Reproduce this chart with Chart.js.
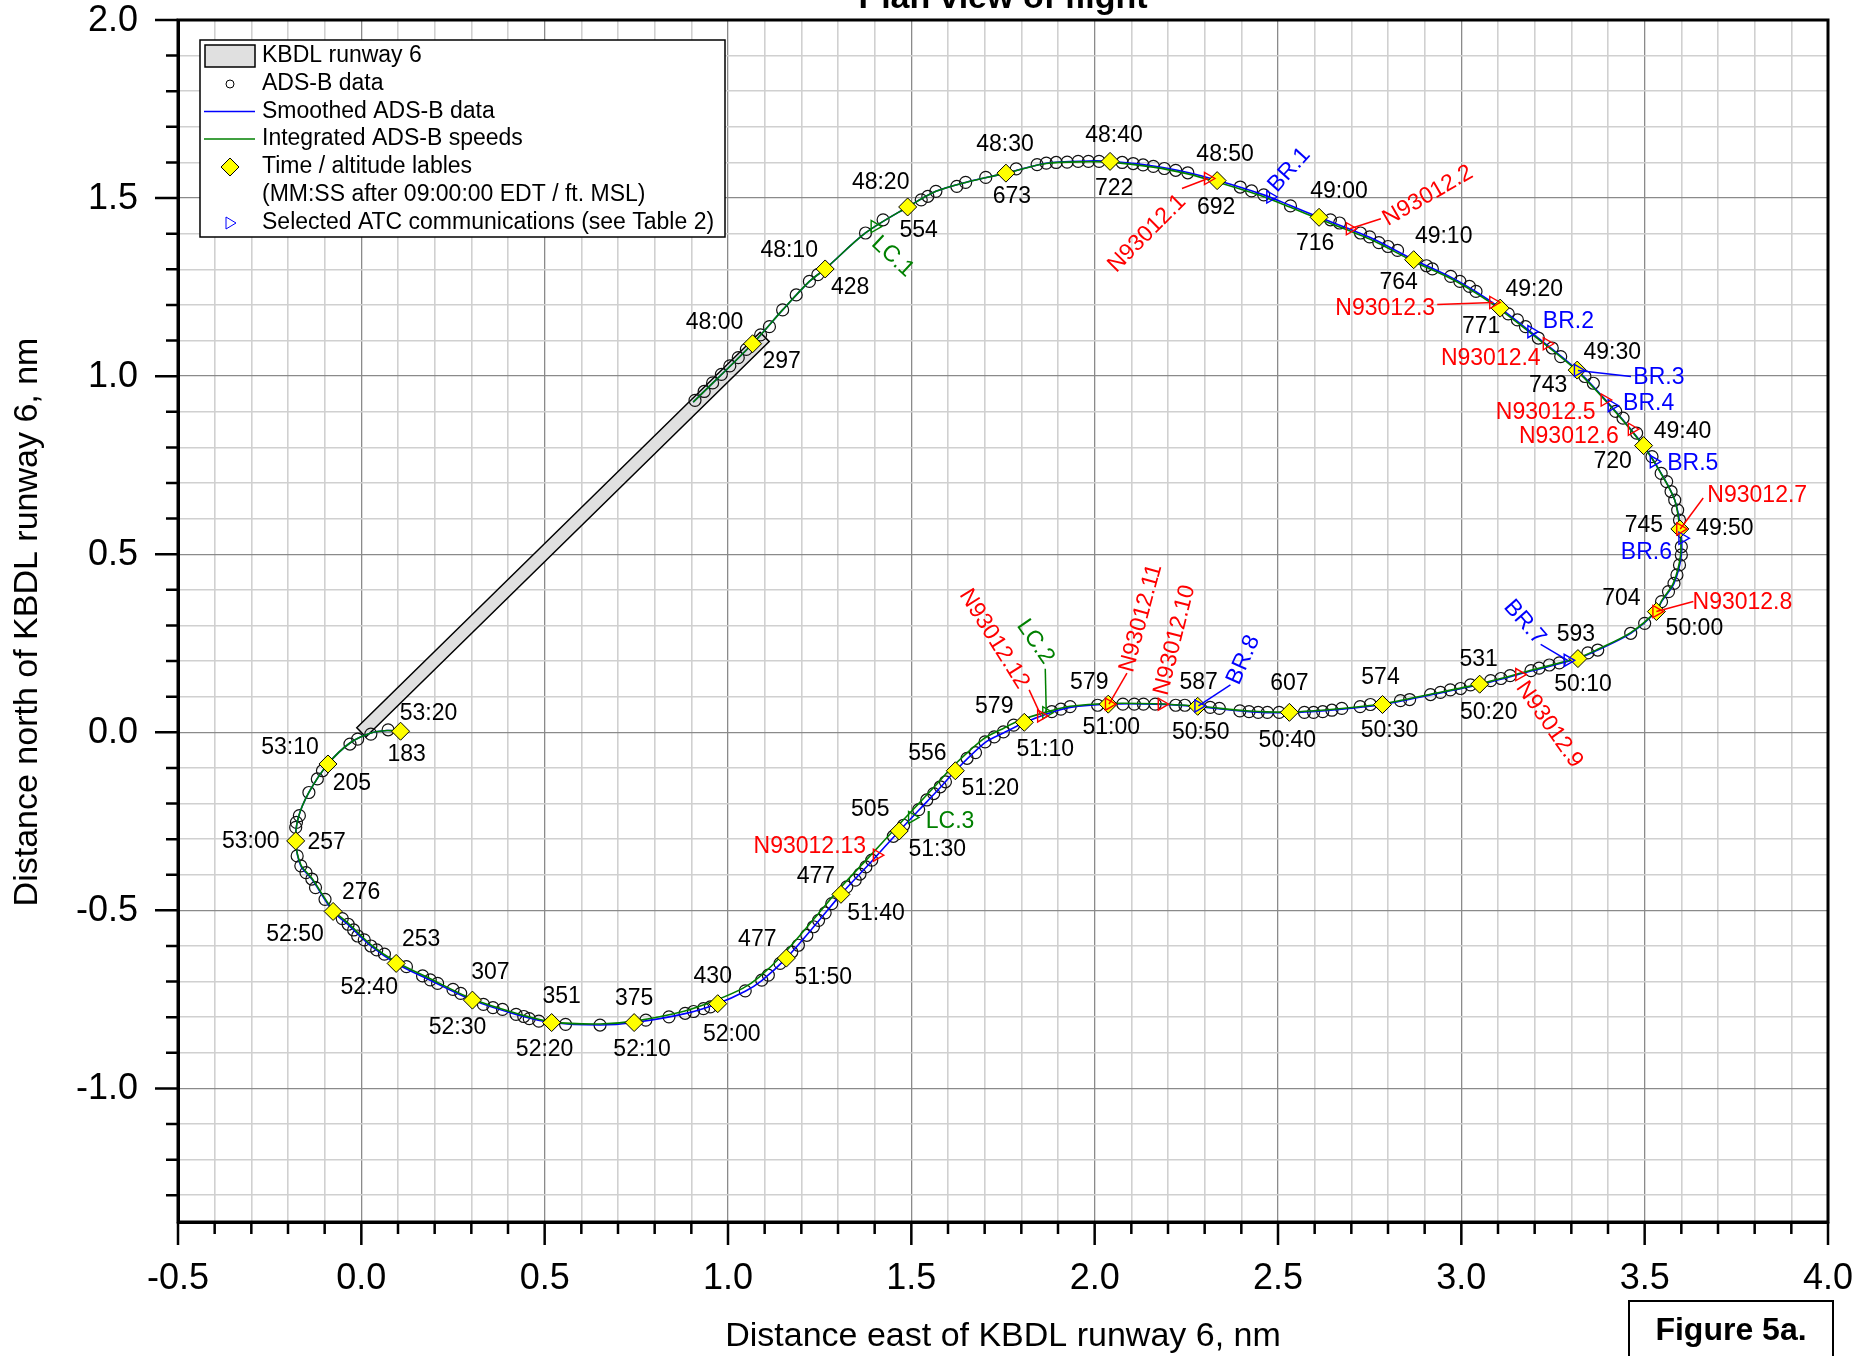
<!DOCTYPE html>
<html>
<head>
<meta charset="utf-8">
<script src="https://cdn.jsdelivr.net/npm/chart.js@4.4.1/dist/chart.umd.min.js"></script>
<style>
  html, body { margin: 0; padding: 0; background: #fff; overflow: hidden; }
  canvas { display: block; }
</style>
</head>
<body>
<canvas id="plan" width="1875" height="1356"></canvas>
<script>
// ---- values (nm east / nm north of KBDL runway 6) ----
const xTickLabels = ['-0.5', '0.0', '0.5', '1.0', '1.5', '2.0', '2.5', '3.0', '3.5', '4.0'];
const yTickLabels = ['2.0', '1.5', '1.0', '0.5', '0.0', '-0.5', '-1.0'];

const runwayEnds = [[0.0, 0.0], [1.100, 1.110]];

// Smoothed ADS-B track
const smoothedTrack = [
  [0.905, 0.927], [1.067, 1.091], [1.149, 1.186], [1.222, 1.266], [1.265, 1.301],
  [1.375, 1.402], [1.490, 1.475], [1.567, 1.519], [1.648, 1.544], [1.758, 1.570],
  [1.868, 1.598], [1.983, 1.604], [2.042, 1.603], [2.160, 1.590], [2.254, 1.572],
  [2.334, 1.550], [2.461, 1.509], [2.534, 1.479], [2.612, 1.446], [2.750, 1.390],
  [2.870, 1.327], [2.971, 1.278], [3.040, 1.237], [3.106, 1.191], [3.210, 1.107],
  [3.316, 1.017], [3.421, 0.901], [3.497, 0.805], [3.545, 0.727], [3.582, 0.652],
  [3.598, 0.570], [3.600, 0.498], [3.580, 0.418], [3.546, 0.367], [3.532, 0.339],
  [3.462, 0.278], [3.372, 0.231], [3.318, 0.207], [3.190, 0.172], [3.050, 0.134],
  [2.916, 0.105], [2.785, 0.078], [2.674, 0.065], [2.531, 0.055], [2.421, 0.058],
  [2.281, 0.072], [2.165, 0.079], [2.035, 0.079], [1.933, 0.070], [1.883, 0.056],
  [1.808, 0.027], [1.751, -0.002], [1.701, -0.029], [1.620, -0.108], [1.579, -0.155],
  [1.520, -0.219], [1.467, -0.277], [1.392, -0.362], [1.308, -0.455], [1.247, -0.530],
  [1.159, -0.634], [1.092, -0.697], [1.047, -0.727], [0.971, -0.762], [0.883, -0.790],
  [0.744, -0.815], [0.651, -0.822], [0.519, -0.815], [0.422, -0.792], [0.303, -0.752],
  [0.188, -0.696], [0.095, -0.649], [0.026, -0.600], [-0.036, -0.540], [-0.077, -0.503],
  [-0.135, -0.412], [-0.165, -0.375], [-0.179, -0.305], [-0.172, -0.240], [-0.143, -0.169],
  [-0.091, -0.089], [-0.031, -0.030], [0.026, -0.002], [0.070, 0.005], [0.107, 0.003]
];

// Track from integrated ADS-B speeds
const integratedTrack = [
  [0.905, 0.927], [1.067, 1.091], [1.149, 1.186], [1.222, 1.266], [1.265, 1.301],
  [1.375, 1.402], [1.490, 1.475], [1.567, 1.519], [1.648, 1.544], [1.758, 1.570],
  [1.868, 1.597], [1.983, 1.602], [2.042, 1.601], [2.160, 1.587], [2.254, 1.568],
  [2.334, 1.545], [2.461, 1.504], [2.534, 1.474], [2.612, 1.441], [2.750, 1.385],
  [2.870, 1.322], [2.971, 1.274], [3.040, 1.233], [3.106, 1.187], [3.210, 1.104],
  [3.316, 1.014], [3.421, 0.899], [3.497, 0.803], [3.545, 0.726], [3.582, 0.652],
  [3.596, 0.570], [3.598, 0.498], [3.578, 0.418], [3.546, 0.369], [3.532, 0.341],
  [3.462, 0.280], [3.372, 0.233], [3.318, 0.209], [3.190, 0.174], [3.050, 0.136],
  [2.916, 0.107], [2.785, 0.080], [2.674, 0.067], [2.531, 0.057], [2.421, 0.060],
  [2.281, 0.073], [2.165, 0.080], [2.035, 0.081], [1.933, 0.073], [1.883, 0.061],
  [1.800, 0.035], [1.745, 0.008], [1.695, -0.020], [1.612, -0.097], [1.571, -0.144],
  [1.512, -0.209], [1.458, -0.268], [1.383, -0.352], [1.298, -0.446], [1.237, -0.521],
  [1.150, -0.624], [1.084, -0.688], [1.040, -0.719], [0.965, -0.753], [0.880, -0.783],
  [0.744, -0.811], [0.651, -0.819], [0.519, -0.813], [0.422, -0.789], [0.303, -0.749],
  [0.188, -0.692], [0.095, -0.645], [0.026, -0.596], [-0.036, -0.536], [-0.077, -0.499],
  [-0.135, -0.410], [-0.165, -0.372], [-0.179, -0.305], [-0.172, -0.240], [-0.143, -0.169],
  [-0.091, -0.089], [-0.031, -0.030], [0.026, -0.002], [0.070, 0.005], [0.107, 0.003]
];

// Raw ADS-B reports
const adsbPoints = [
  [0.910, 0.932], [0.935, 0.957], [0.958, 0.981], [0.982, 1.005], [1.005, 1.029], [1.028, 1.052], [1.050, 1.075],
  [1.089, 1.116], [1.113, 1.139], [1.149, 1.186], [1.186, 1.228], [1.222, 1.266], [1.245, 1.285],
  [1.375, 1.402], [1.423, 1.439],
  [1.527, 1.495], [1.545, 1.505], [1.567, 1.519], [1.624, 1.533], [1.648, 1.544], [1.703, 1.558],
  [1.786, 1.582], [1.843, 1.594], [1.868, 1.598], [1.895, 1.600], [1.925, 1.601], [1.955, 1.603], [1.983, 1.603], [2.012, 1.603],
  [2.075, 1.600], [2.105, 1.597], [2.132, 1.593], [2.160, 1.589], [2.190, 1.583], [2.221, 1.578], [2.254, 1.571],
  [2.397, 1.531], [2.428, 1.520], [2.461, 1.509], [2.534, 1.478],
  [2.643, 1.439], [2.668, 1.430], [2.725, 1.402], [2.750, 1.391], [2.775, 1.375], [2.800, 1.364], [2.826, 1.353],
  [2.905, 1.310], [2.921, 1.301], [2.971, 1.280], [2.996, 1.266], [3.022, 1.252], [3.040, 1.238],
  [3.128, 1.175], [3.153, 1.158], [3.175, 1.139], [3.210, 1.107], [3.248, 1.079], [3.271, 1.055],
  [3.337, 0.999], [3.360, 0.980], [3.421, 0.901], [3.441, 0.882], [3.478, 0.840],
  [3.520, 0.774], [3.545, 0.727], [3.560, 0.704], [3.572, 0.676], [3.582, 0.652], [3.590, 0.624], [3.595, 0.596],
  [3.600, 0.521], [3.600, 0.498], [3.595, 0.470], [3.588, 0.442], [3.580, 0.418], [3.565, 0.395], [3.546, 0.367],
  [3.500, 0.306], [3.462, 0.278], [3.372, 0.231], [3.345, 0.223],
  [3.267, 0.195], [3.240, 0.189], [3.212, 0.180], [3.190, 0.173], [3.133, 0.159], [3.108, 0.151], [3.080, 0.145],
  [3.025, 0.133], [2.998, 0.123], [2.970, 0.119], [2.943, 0.112], [2.916, 0.106], [2.859, 0.092], [2.834, 0.089],
  [2.752, 0.078], [2.724, 0.072], [2.674, 0.067], [2.647, 0.062], [2.622, 0.058], [2.597, 0.056], [2.572, 0.056],
  [2.503, 0.056], [2.471, 0.056], [2.446, 0.056], [2.421, 0.058], [2.396, 0.060], [2.340, 0.067], [2.315, 0.070],
  [2.246, 0.076], [2.221, 0.076], [2.165, 0.079], [2.133, 0.079], [2.108, 0.079], [2.077, 0.079],
  [2.008, 0.076], [1.933, 0.072], [1.908, 0.065], [1.883, 0.058],
  [1.779, 0.020], [1.751, 0.001], [1.726, -0.013], [1.701, -0.027], [1.675, -0.057], [1.652, -0.073],
  [1.593, -0.139], [1.579, -0.153], [1.561, -0.172], [1.542, -0.190], [1.520, -0.217], [1.479, -0.261],
  [1.451, -0.292], [1.392, -0.359], [1.376, -0.378], [1.360, -0.398], [1.347, -0.415], [1.324, -0.434],
  [1.283, -0.481], [1.265, -0.507], [1.247, -0.528], [1.233, -0.546], [1.215, -0.570], [1.192, -0.598], [1.174, -0.617],
  [1.142, -0.649], [1.110, -0.682], [1.092, -0.696], [1.047, -0.726],
  [0.952, -0.771], [0.933, -0.776], [0.906, -0.784], [0.883, -0.789], [0.839, -0.799], [0.776, -0.808],
  [0.651, -0.822], [0.557, -0.820],
  [0.484, -0.811], [0.458, -0.804], [0.443, -0.798], [0.422, -0.792], [0.385, -0.778], [0.359, -0.773], [0.333, -0.764],
  [0.271, -0.733], [0.250, -0.722], [0.208, -0.705], [0.188, -0.695], [0.167, -0.684], [0.123, -0.658],
  [0.063, -0.623], [0.042, -0.611], [0.026, -0.600], [0.008, -0.583], [-0.010, -0.572], [-0.021, -0.555], [-0.036, -0.539], [-0.052, -0.523],
  [-0.099, -0.469], [-0.125, -0.436], [-0.135, -0.412], [-0.151, -0.394], [-0.165, -0.375], [-0.175, -0.347],
  [-0.179, -0.267], [-0.177, -0.253], [-0.169, -0.234], [-0.143, -0.169], [-0.120, -0.131], [-0.106, -0.108],
  [-0.031, -0.033], [-0.010, -0.019], [0.026, -0.005], [0.073, 0.007]
];

// Time / altitude labels
const labelTimes = ['48:00', '48:10', '48:20', '48:30', '48:40', '48:50', '49:00', '49:10', '49:20', '49:30',
  '49:40', '49:50', '50:00', '50:10', '50:20', '50:30', '50:40', '50:50', '51:00', '51:10', '51:20',
  '51:30', '51:40', '51:50', '52:00', '52:10', '52:20', '52:30', '52:40', '52:50', '53:00', '53:10', '53:20'];
const labelAltitudes = [297, 428, 554, 673, 722, 692, 716, 764, 771, 743, 720, 745, 704, 593, 531, 574, 607,
  587, 579, 579, 556, 505, 477, 477, 430, 375, 351, 307, 253, 276, 257, 205, 183];
const labelX = [1.067, 1.265, 1.490, 1.758, 2.042, 2.334, 2.612, 2.870, 3.106, 3.316, 3.497, 3.596, 3.532,
  3.318, 3.050, 2.785, 2.531, 2.281, 2.037, 1.808, 1.620, 1.467, 1.308, 1.159, 0.972, 0.744, 0.519,
  0.303, 0.095, -0.077, -0.179, -0.091, 0.107];
const labelY = [1.091, 1.301, 1.475, 1.570, 1.603, 1.549, 1.446, 1.327, 1.191, 1.017, 0.805, 0.571, 0.339,
  0.207, 0.135, 0.078, 0.056, 0.073, 0.079, 0.028, -0.108, -0.277, -0.455, -0.634, -0.762, -0.815,
  -0.815, -0.752, -0.649, -0.503, -0.305, -0.089, 0.003];

// Selected ATC communications
const brNames = ['BR.1', 'BR.2', 'BR.3', 'BR.4', 'BR.5', 'BR.6', 'BR.7', 'BR.8'];
const brX = [2.479, 3.191, 3.318, 3.410, 3.525, 3.603, 3.290, 2.283];
const brY = [1.503, 1.125, 1.016, 0.917, 0.760, 0.545, 0.202, 0.074];

const nNames = ['N93012.1', 'N93012.2', 'N93012.3', 'N93012.4', 'N93012.5', 'N93012.6', 'N93012.7',
  'N93012.8', 'N93012.9', 'N93012.10', 'N93012.11', 'N93012.12', 'N93012.13'];
const nX = [2.309, 2.696, 3.087, 3.233, 3.391, 3.465, 3.597, 3.532, 3.158, 2.183, 2.039, 1.854, 1.406];
const nY = [1.555, 1.414, 1.207, 1.091, 0.933, 0.851, 0.571, 0.339, 0.162, 0.079, 0.079, 0.046, -0.345];

const lcNames = ['LC.1', 'LC.2', 'LC.3'];
const lcX = [1.400, 1.868, 1.502];
const lcY = [1.420, 0.055, -0.239];

// ---- layout of the annotations (pixel offsets from their mark) ----
// [time dx, time dy, altitude dx, altitude dy]
const labelPlacement = [
  [-38, -21, 29, 18], [-36, -18, 25, 19], [-27, -24, 11, 24], [-1, -28, 6, 24], [4, -26, 4, 27],
  [8, -26, -1, 27], [20, -26, -4, 26], [30, -23, -15, 23], [34, -18, -19, 19], [35, -17, -29, 16],
  [39, -14, -31, 16], [45, 0, -36, -3], [38, 17, -35, -13], [5, 26, -2, -24], [9, 28, -1, -25],
  [7, 26, -2, -27], [-2, 28, 0, -29], [3, 26, 1, -24], [3, 23, -19, -22], [21, 27, -30, -16],
  [35, 18, -28, -17], [38, 19, -29, -21], [35, 19, -25, -18], [37, 20, -29, -18], [14, 31, -5, -27],
  [8, 27, 0, -24], [-7, 27, 10, -26], [-15, 28, 18, -27], [-27, 24, 25, -24], [-38, 23, 28, -19],
  [-45, 1, 31, 2], [-38, -16, 24, 20], [28, -18, 6, 23]
];
// [dx, dy, rotation deg, leader end dx, leader end dy]
const brPlacement = [
  [19, -27, -48], [37, -10, 0], [81, 7, 0, 53, 6], [37, -2, 0], [39, 2, 0], [-36, 14, 0],
  [-43, -38, 49, -27, -16], [45, -46, -66, 32, -21]
];
const nPlacement = [
  [-61, 55, -45, -26, 10], [78, -33, -30, 31, -10], [-108, 6, 0, -56, 2], [-56, 15, 0], [-59, 13, 0],
  [-63, 7, 0], [77, -33, 0, 23, -31], [86, -9, 0, 37, -10], [30, 50, 55], [13, -64, -76],
  [32, -86, -75, 18, -31], [-47, -77, 58, -12, -26], [-67, -9, 0]
];
const lcPlacement = [[18, 30, 43], [-11, -71, 55, -1, -44], [38, 4, 0]];

const FONT = '"Liberation Sans", Arial, Helvetica, sans-serif';
const RED = '#ff0000', BLUE = '#0000ff', GREEN = '#008000';

const pairs = arr => arr.map(p => ({ x: p[0], y: p[1] }));
const zip = (xs, ys) => xs.map((v, i) => ({ x: v, y: ys[i] }));

function gridValues(min, max) {
  const vals = [];
  for (let k = Math.ceil(min * 10 - 1e-9); k <= Math.floor(max * 10 + 1e-9); k++) vals.push({ value: k / 10 });
  return vals;
}
const isMajor = v => Math.abs(v * 2 - Math.round(v * 2)) < 1e-6;

function drawText(ctx, text, x, y, opts) {
  ctx.save();
  ctx.translate(x, y);
  if (opts.rot) ctx.rotate(opts.rot * Math.PI / 180);
  ctx.font = opts.font;
  ctx.fillStyle = opts.color || '#000';
  ctx.textAlign = opts.align || 'center';
  ctx.textBaseline = 'middle';
  ctx.fillText(text, 0, 0);
  ctx.restore();
}

function drawAtcLabels(ctx, xs, ys, names, place, color, sx, sy) {
  names.forEach((name, i) => {
    const px = sx.getPixelForValue(xs[i]);
    const py = sy.getPixelForValue(ys[i]);
    const p = place[i];
    if (p.length > 3) {
      ctx.save();
      ctx.strokeStyle = color;
      ctx.lineWidth = 1.5;
      ctx.beginPath();
      ctx.moveTo(px, py);
      ctx.lineTo(px + p[3], py + p[4]);
      ctx.stroke();
      ctx.restore();
    }
    drawText(ctx, name, px + p[0], py + p[1], { font: '23px ' + FONT, color: color, rot: p[2] });
  });
}

const decorations = {
  id: 'decorations',
  beforeDatasetsDraw(chart) {
    const { ctx, scales: { x, y } } = chart;
    const x0 = x.getPixelForValue(runwayEnds[0][0]), y0 = y.getPixelForValue(runwayEnds[0][1]);
    const x1 = x.getPixelForValue(runwayEnds[1][0]), y1 = y.getPixelForValue(runwayEnds[1][1]);
    const len = Math.hypot(x1 - x0, y1 - y0);
    const half = 6.5;
    const nx = -(y1 - y0) / len * half, ny = (x1 - x0) / len * half;
    ctx.save();
    ctx.beginPath();
    ctx.moveTo(x0 + nx, y0 + ny);
    ctx.lineTo(x1 + nx, y1 + ny);
    ctx.lineTo(x1 - nx, y1 - ny);
    ctx.lineTo(x0 - nx, y0 - ny);
    ctx.closePath();
    ctx.fillStyle = '#e0e0e0';
    ctx.fill();
    ctx.lineWidth = 1.5;
    ctx.strokeStyle = '#000';
    ctx.stroke();
    ctx.restore();
  },
  afterDatasetsDraw(chart) {
    const { ctx, scales: { x, y } } = chart;
    const f = '23px ' + FONT;
    labelTimes.forEach((t, i) => {
      const px = x.getPixelForValue(labelX[i]);
      const py = y.getPixelForValue(labelY[i]);
      const p = labelPlacement[i];
      drawText(ctx, t, px + p[0], py + p[1], { font: f });
      drawText(ctx, String(labelAltitudes[i]), px + p[2], py + p[3], { font: f });
    });
    drawAtcLabels(ctx, nX, nY, nNames, nPlacement, RED, x, y);
    drawAtcLabels(ctx, brX, brY, brNames, brPlacement, BLUE, x, y);
    drawAtcLabels(ctx, lcX, lcY, lcNames, lcPlacement, GREEN, x, y);
  },
  afterDraw(chart) {
    const { ctx, chartArea: a, scales: { x, y } } = chart;
    ctx.save();
    // frame
    ctx.strokeStyle = '#000';
    ctx.lineWidth = 3;
    ctx.strokeRect(a.left, a.top, a.right - a.left, a.bottom - a.top);
    // tick marks
    ctx.lineWidth = 2.5;
    ctx.beginPath();
    x.ticks.forEach(t => {
      const px = x.getPixelForValue(t.value);
      ctx.moveTo(px, a.bottom);
      ctx.lineTo(px, a.bottom + (isMajor(t.value) ? 23 : 12));
    });
    y.ticks.forEach(t => {
      const py = y.getPixelForValue(t.value);
      ctx.moveTo(a.left, py);
      ctx.lineTo(a.left - (isMajor(t.value) ? 23 : 12), py);
    });
    ctx.stroke();
    ctx.restore();
    // tick labels
    xTickLabels.forEach(l => {
      drawText(ctx, l, x.getPixelForValue(parseFloat(l)), a.bottom + 57, { font: '36px ' + FONT });
    });
    yTickLabels.forEach(l => {
      drawText(ctx, l, a.left - 40, y.getPixelForValue(parseFloat(l)) + 1, { font: '36px ' + FONT, align: 'right' });
    });
    // axis titles
    drawText(ctx, 'Distance east of KBDL runway 6, nm', (a.left + a.right) / 2, 1337, { font: '34px ' + FONT });
    drawText(ctx, 'Distance north of KBDL runway 6, nm', 28, 622, { font: '34px ' + FONT, rot: -90 });
    // chart title (cut off at the top edge, as in the original)
    ctx.save();
    ctx.font = 'bold 34px ' + FONT;
    ctx.textAlign = 'center';
    ctx.textBaseline = 'alphabetic';
    ctx.fillStyle = '#000';
    ctx.fillText('Plan view of flight', (a.left + a.right) / 2, 8);
    ctx.restore();
    // figure tag
    ctx.save();
    ctx.strokeStyle = '#000';
    ctx.lineWidth = 2;
    ctx.strokeRect(1629, 1301, 204, 70);
    ctx.restore();
    drawText(ctx, 'Figure 5a.', 1731, 1331, { font: 'bold 32px ' + FONT });
    // legend
    drawLegend(ctx);
  }
};

function drawLegend(ctx) {
  const bx = 200, by = 40, bw = 525, bh = 197;
  const rows = [56, 84, 111.5, 139, 167, 195, 223];
  const sx = 230, tx = 262;
  ctx.save();
  ctx.fillStyle = '#fff';
  ctx.fillRect(bx, by, bw, bh);
  ctx.strokeStyle = '#000';
  ctx.lineWidth = 1.5;
  ctx.strokeRect(bx, by, bw, bh);
  // runway swatch
  ctx.fillStyle = '#e0e0e0';
  ctx.fillRect(205, 45, 50, 22);
  ctx.strokeRect(205, 45, 50, 22);
  // ADS-B circle
  ctx.lineWidth = 1;
  ctx.strokeStyle = '#000';
  ctx.beginPath();
  ctx.arc(sx, rows[1], 4, 0, Math.PI * 2);
  ctx.stroke();
  // lines
  ctx.lineWidth = 1.5;
  ctx.strokeStyle = BLUE;
  ctx.beginPath(); ctx.moveTo(204, rows[2]); ctx.lineTo(255, rows[2]); ctx.stroke();
  ctx.strokeStyle = GREEN;
  ctx.beginPath(); ctx.moveTo(204, rows[3]); ctx.lineTo(255, rows[3]); ctx.stroke();
  // diamond
  ctx.beginPath();
  ctx.moveTo(sx, rows[4] - 9); ctx.lineTo(sx + 9, rows[4]); ctx.lineTo(sx, rows[4] + 9); ctx.lineTo(sx - 9, rows[4]);
  ctx.closePath();
  ctx.fillStyle = '#ffff00';
  ctx.fill();
  ctx.strokeStyle = '#000';
  ctx.lineWidth = 1;
  ctx.stroke();
  // triangle
  ctx.beginPath();
  ctx.moveTo(sx - 4, rows[6] - 6); ctx.lineTo(sx + 6, rows[6]); ctx.lineTo(sx - 4, rows[6] + 6);
  ctx.closePath();
  ctx.strokeStyle = BLUE;
  ctx.stroke();
  ctx.restore();
  const texts = ['KBDL runway 6', 'ADS-B data', 'Smoothed ADS-B data', 'Integrated ADS-B speeds',
    'Time / altitude lables', '(MM:SS after 09:00:00 EDT / ft. MSL)', 'Selected ATC communications (see Table 2)'];
  texts.forEach((t, i) => drawText(ctx, t, tx, rows[i], { font: '23px ' + FONT, align: 'left' }));
}

const triangleSet = (label, xs, ys, color) => ({
  label: label,
  data: zip(xs, ys),
  pointStyle: 'triangle',
  rotation: 90,
  pointRadius: 7,
  pointBorderWidth: 1.4,
  borderColor: color,
  backgroundColor: 'rgba(255,255,255,0)',
  showLine: false,
  order: 0
});

new Chart(document.getElementById('plan'), {
  type: 'scatter',
  data: {
    datasets: [
      {
        label: 'ADS-B data',
        data: pairs(adsbPoints),
        pointStyle: 'circle',
        pointRadius: 6,
        pointBorderWidth: 1.2,
        borderColor: '#111',
        backgroundColor: 'rgba(255,255,255,0)',
        order: 5
      },
      {
        label: 'Smoothed ADS-B data',
        data: pairs(smoothedTrack),
        showLine: true,
        tension: 0.3,
        pointRadius: 0,
        borderColor: BLUE,
        borderWidth: 1.6,
        order: 4
      },
      {
        label: 'Integrated ADS-B speeds',
        data: pairs(integratedTrack),
        showLine: true,
        tension: 0.3,
        pointRadius: 0,
        borderColor: GREEN,
        borderWidth: 1.6,
        order: 3
      },
      {
        label: 'Time / altitude lables',
        data: zip(labelX, labelY),
        pointStyle: 'rectRot',
        pointRadius: 9,
        pointBorderWidth: 1,
        borderColor: '#000',
        backgroundColor: '#ffff00',
        order: 2
      },
      triangleSet('ATC N93012', nX, nY, RED),
      triangleSet('ATC BR', brX, brY, BLUE),
      triangleSet('ATC LC', lcX, lcY, GREEN)
    ]
  },
  options: {
    responsive: false,
    animation: false,
    devicePixelRatio: 1,
    layout: { padding: { left: 0, top: 20, right: 47, bottom: 0 } },
    plugins: {
      legend: { display: false },
      tooltip: { enabled: false },
      title: { display: false }
    },
    scales: {
      x: {
        type: 'linear',
        min: -0.5,
        max: 4.0,
        afterBuildTicks: s => { s.ticks = gridValues(-0.5, 4.0); },
        afterFit: s => { s.height = 134; },
        ticks: { display: false },
        grid: {
          drawTicks: false,
          color: c => isMajor(c.tick.value) ? '#8a8a8a' : '#d0d0d0',
          lineWidth: c => isMajor(c.tick.value) ? 1.3 : 1.6
        },
        border: { color: '#000', width: 3 }
      },
      y: {
        type: 'linear',
        min: -1.375,
        max: 2.0,
        afterBuildTicks: s => { s.ticks = gridValues(-1.375, 2.0); },
        afterFit: s => { s.width = 178; },
        ticks: { display: false },
        grid: {
          drawTicks: false,
          color: c => isMajor(c.tick.value) ? '#8a8a8a' : '#d0d0d0',
          lineWidth: c => isMajor(c.tick.value) ? 1.3 : 1.6
        },
        border: { color: '#000', width: 3 }
      }
    }
  },
  plugins: [decorations]
});
</script>
</body>
</html>
